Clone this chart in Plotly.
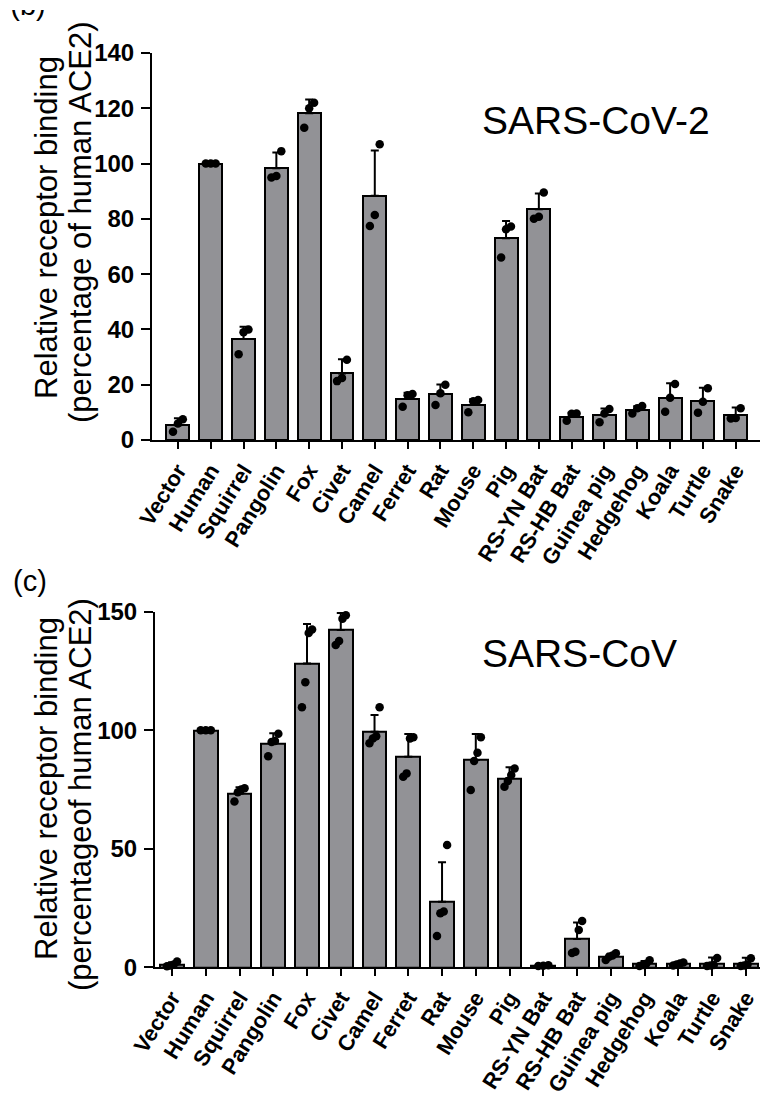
import plotly.graph_objects as go

categories = ["Vector", "Human", "Squirrel", "Pangolin", "Fox", "Civet", "Camel", "Ferret",
              "Rat", "Mouse", "Pig", "RS-YN Bat", "RS-HB Bat", "Guinea pig", "Hedgehog",
              "Koala", "Turtle", "Snake"]

# Panel (b): SARS-CoV-2
cov2_mean = [5.3, 100, 36.5, 98.3, 118.2, 24.1, 88.4, 14.8, 16.5, 12.7, 73.0, 83.5,
             8.4, 9.0, 10.8, 15.3, 14.1, 9.0]
cov2_sd = [2.6, 0, 4.5, 5.7, 5.0, 5.1, 16.3, 2.3, 3.6, 2.0, 6.2, 5.7,
           1.5, 2.4, 1.4, 5.2, 4.8, 2.8]
cov2_points = [
    [3.0, 6.0, 7.5], [100, 100, 100], [31, 39, 40], [95, 95.5, 104.5],
    [113, 120, 122], [21.3, 22.4, 29], [77.4, 81.4, 107], [12, 16.2, 16.6],
    [12.7, 16.9, 20], [10, 14, 14.5], [66, 76.2, 77.2], [80, 80.8, 89.5],
    [7.0, 9.5, 9.6], [6.4, 9.6, 11.2], [9.6, 11.5, 12.3], [10.2, 15.3, 20.3],
    [9.9, 13.8, 18.7], [7.8, 8.0, 11.5],
]

# Panel (c): SARS-CoV
cov1_mean = [1.1, 100, 73.2, 94.5, 128.2, 142.3, 99.4, 88.8, 27.7, 87.4, 79.7, 0.7,
             11.9, 4.4, 1.5, 1.4, 1.5, 1.5]
cov1_sd = [0.9, 0, 2.7, 4.2, 16.6, 7.2, 7.0, 9.6, 16.6, 11.0, 4.7, 0.2,
           7.0, 1.3, 1.2, 0.6, 2.6, 2.5]
cov1_points = [
    [0.4, 0.8, 1.2, 2.4], [100, 100, 100], [69.9, 73.8, 75.0, 75.5], [89, 95, 95.5, 98.5],
    [109.7, 120.2, 141, 142.5], [136, 137.6, 147, 148.5], [94.5, 96.5, 97.5, 109.7],
    [80.4, 81.8, 96.5, 97], [13.2, 22.8, 23.5, 51.6], [74.8, 87, 90.5, 97],
    [76.2, 78.6, 81.1, 83.9], [0.5, 0.7, 0.9], [6.0, 6.6, 15.7, 19.5],
    [3.1, 4.5, 5.0, 5.9], [0.5, 1.0, 1.5, 3.0], [0.8, 1.2, 1.6, 2.0],
    [0.5, 0.8, 1.0, 3.9], [0.5, 0.8, 1.2, 3.8],
]

BAR_FILL = "#929296"
FONT = "Liberation Sans, Arial, sans-serif"
W, H = 760, 1100

fig = go.Figure()


def add_panel(means, sds, points, xref, yref):
    xs = list(range(len(categories)))
    fig.add_trace(go.Bar(
        x=xs, y=means, width=0.7, xaxis=xref, yaxis=yref,
        marker=dict(color=BAR_FILL, line=dict(color="black", width=2)),
        error_y=dict(type="data", array=sds, arrayminus=[0] * len(sds), symmetric=False,
                     color="black", thickness=2, width=4),
        showlegend=False, hoverinfo="skip",
    ))
    px, py = [], []
    for i, pts in enumerate(points):
        n = len(pts)
        step = 0.3 / max(n - 1, 1) if n > 1 else 0
        for j, v in enumerate(sorted(pts)):
            px.append(i + (j - (n - 1) / 2) * step)
            py.append(v)
    fig.add_trace(go.Scatter(
        x=px, y=py, mode="markers", xaxis=xref, yaxis=yref,
        marker=dict(color="black", size=8.5),
        showlegend=False, hoverinfo="skip", cliponaxis=False,
    ))


add_panel(cov2_mean, cov2_sd, cov2_points, "x", "y")
add_panel(cov1_mean, cov1_sd, cov1_points, "x2", "y2")

# partially cropped "(b)" panel label (clipped by a hidden axis area like the source crop)
fig.add_trace(go.Scatter(
    x=[28], y=[60 - 8], mode="text", text=["(b)"], textposition="middle center",
    textfont=dict(family=FONT, size=29, color="black"),
    xaxis="x3", yaxis="y3", cliponaxis=True, showlegend=False, hoverinfo="skip",
))

xcommon = dict(
    tickmode="array", tickvals=list(range(len(categories))), ticktext=categories,
    tickangle=-58, showline=True, linecolor="black", linewidth=2,
    ticks="outside", ticklen=7, tickwidth=2, tickcolor="black",
    showgrid=False, zeroline=False, automargin=False, ticklabeloverflow="allow",
    tickfont=dict(family=FONT, size=22, color="black", weight="bold"),
)
ycommon = dict(
    showline=True, linecolor="black", linewidth=2,
    ticks="outside", ticklen=9, tickwidth=2, tickcolor="black",
    showgrid=False, zeroline=False, ticklabelstandoff=2, automargin=False,
    tickfont=dict(family=FONT, size=24, color="black", weight="bold"),
)

fig.update_layout(
    width=W, height=H, margin=dict(l=0, r=0, t=0, b=0, autoexpand=False),
    paper_bgcolor="white", plot_bgcolor="rgba(0,0,0,0)", bargap=0,
    xaxis=dict(domain=[152 / W, 1.0], range=[-0.79, 17.74], anchor="y", **xcommon),
    yaxis=dict(domain=[(H - 440) / H, (H - 53) / H], range=[0, 140],
               tickvals=[0, 20, 40, 60, 80, 100, 120, 140], anchor="x", **ycommon),
    xaxis2=dict(domain=[155 / W, 1.0], range=[-0.504, 17.42], anchor="y2", **xcommon),
    yaxis2=dict(domain=[(H - 967.3) / H, (H - 611.7) / H], range=[0, 150],
                tickvals=[0, 50, 100, 150], anchor="x2", **ycommon),
    xaxis3=dict(domain=[0, 100 / W], range=[0, 100], visible=False, anchor="y3",
                automargin=False),
    yaxis3=dict(domain=[(H - 60) / H, (H - 10) / H], range=[0, 50], visible=False,
                anchor="x3", automargin=False),
)


def ann(text, x, y, size, angle=0, xanchor="center"):
    fig.add_annotation(text=text, x=x / W, y=(H - y) / H, xref="paper", yref="paper",
                       showarrow=False, textangle=angle, xanchor=xanchor, yanchor="middle",
                       font=dict(family=FONT, size=size, color="black"))


ann("Relative receptor binding", 46, 228, 31, -90)
ann("(percentage of human ACE2)", 81, 222, 31, -90)
ann("Relative receptor binding", 46, 789, 31, -90)
ann("(percentageof human ACE2)", 81, 795, 31, -90)
ann("SARS-CoV-2", 480, 120, 39, xanchor="left")
ann("SARS-CoV", 480, 654, 39, xanchor="left")
ann("(c)", 30, 581, 29)

fig.write_html("out.html")
